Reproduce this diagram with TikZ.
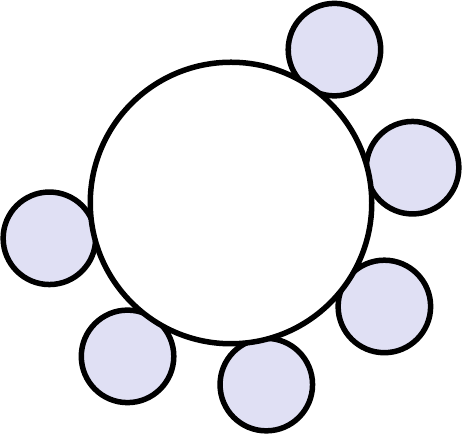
\documentclass[tikz,border=0pt]{standalone}
\usepackage{tikz}
\usetikzlibrary{positioning,calc}
\definecolor{seatcolor}{RGB}{224,224,244}
\tikzset{
  seat/.style={circle, draw=black, fill=seatcolor, line width=5.5pt, minimum size=92.5pt, inner sep=0pt},
  tablebox/.style={circle, draw=black, fill=white, line width=5.5pt, minimum size=281.5pt, inner sep=0pt}
}
\begin{document}
\begin{tikzpicture}[x=1pt, y=1pt]
        \useasboundingbox (0,0) rectangle (463,435);
        \coordinate (mid) at (231,232);
        % six seats, 45 degrees apart, two places left empty at the top left
        \foreach \i in {0,...,5} {
          \pgfmathsetmacro{\ang}{56-45*\i}
          \node[seat] (seat\i) at ([shift={(\ang:185)}]mid) {};
        }
        \node[tablebox] (table) at (mid) {};
      \end{tikzpicture}
\end{document}
